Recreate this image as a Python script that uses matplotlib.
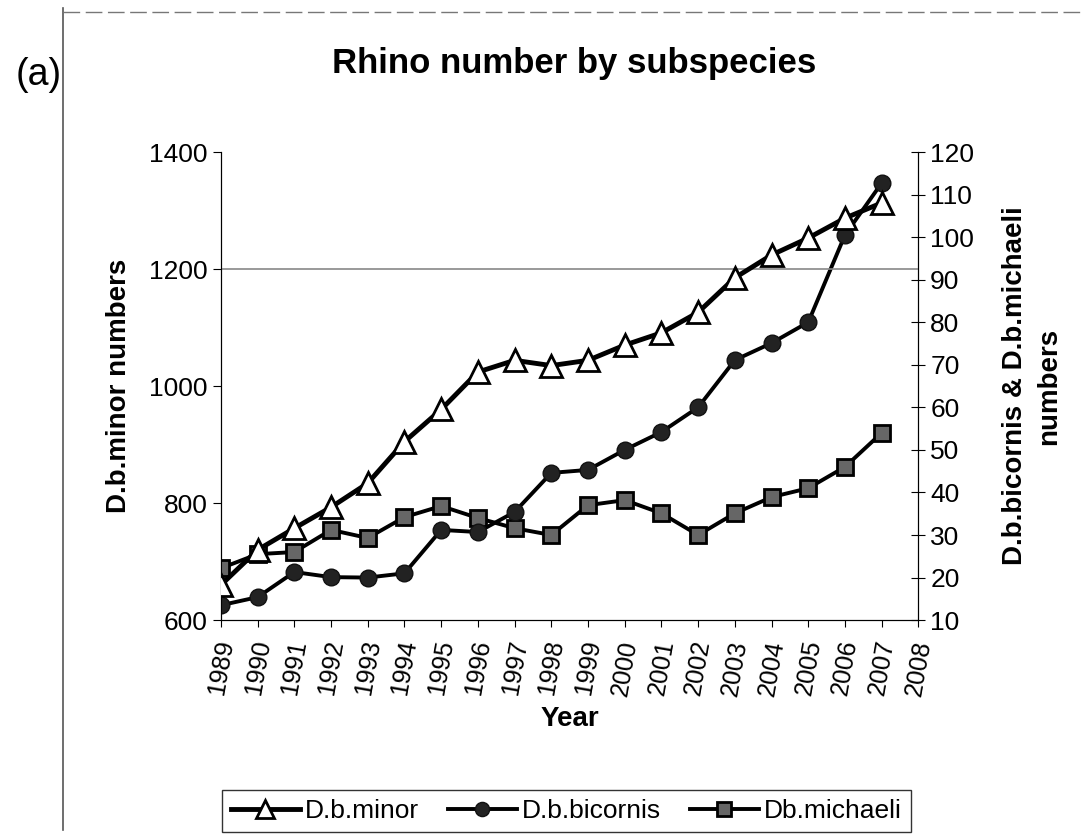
import matplotlib
matplotlib.use("Agg")
import matplotlib.pyplot as plt
from matplotlib.lines import Line2D

# ---------------------------
# Data
# ---------------------------
years = list(range(1989, 2008))
year_ticks = list(range(1989, 2009))

minor = [660, 720, 757, 793, 834, 905, 960, 1024, 1044, 1035, 1044,
         1070, 1091, 1126, 1185, 1224, 1253, 1287, 1313]
bicornis = [13.5, 15.4, 21.3, 20.1, 20.0, 21.0, 31.2, 30.7, 35.4, 44.6, 45.3,
            50.0, 54.2, 60.0, 71.1, 75.1, 80.0, 100.5, 112.7]
michaeli = [22.2, 25.5, 26.0, 31.2, 29.3, 34.2, 36.8, 34.0, 31.6, 30.0, 37.0,
            38.2, 35.1, 30.0, 35.1, 38.9, 41.0, 46.0, 54.0]

plt.rcParams['font.family'] = ['Liberation Sans', 'DejaVu Sans']

fig = plt.figure(figsize=(10.83, 8.38), dpi=100)
ax = fig.add_axes([0.204, 0.26, 0.644, 0.5586])
ax2 = ax.twinx()

# left axis: D.b.minor
ax.axhline(1200, color='#888888', lw=1.2, zorder=0)
l1, = ax.plot(years, minor, color='black', lw=3.5, marker='^', ms=16,
              mfc='white', mec='black', mew=2, zorder=5)
ax.set_ylim(600, 1400)
ax.set_yticks(range(600, 1401, 200))
ax.set_xlim(1989, 2008)
ax.set_xticks(year_ticks)
ax.set_xticklabels([str(y) for y in year_ticks], rotation=80, fontsize=18)
ax.tick_params(axis='y', labelsize=19, direction='out', length=6)
ax.tick_params(axis='x', direction='out', length=5, pad=8)
ax.set_ylabel('D.b.minor numbers', fontsize=20, fontweight='bold', labelpad=12)
ax.set_xlabel('Year', fontsize=20, fontweight='bold', labelpad=6)
ax.spines['top'].set_visible(False)

# right axis: bicornis & michaeli
l2, = ax2.plot(years, bicornis, color='black', lw=2.8, marker='o', ms=12,
               mfc='#222222', mec='#111111', zorder=4)
l3, = ax2.plot(years, michaeli, color='black', lw=2.8, marker='s', ms=12,
               mfc='#666666', mec='black', mew=2, zorder=3)
ax2.set_ylim(10, 120)
ax2.set_yticks(range(10, 121, 10))
ax2.tick_params(axis='y', labelsize=19, direction='inout', length=10)
ax2.set_ylabel('D.b.bicornis & D.b.michaeli\nnumbers', fontsize=20,
               fontweight='bold', rotation=90, labelpad=20, linespacing=1.4)
ax2.spines['top'].set_visible(False)

ax.set_zorder(ax2.get_zorder() + 1)
ax.patch.set_visible(False)

fig.text(0.53, 0.924, 'Rhino number by subspecies', ha='center', va='center',
         fontsize=25, fontweight='bold')
fig.text(0.036, 0.91, '(a)', ha='center', va='center', fontsize=27)

leg = fig.legend([l1, l2, l3], ['D.b.minor', 'D.b.bicornis', 'Db.michaeli'],
                 loc='center', bbox_to_anchor=(0.523, 0.032), ncol=3,
                 fontsize=19, frameon=True, fancybox=False, edgecolor='black',
                 handlelength=2.6, columnspacing=1.1, handletextpad=0.2,
                 borderpad=0.35, markerscale=0.85)
leg.get_frame().set_linewidth(1.0)

# scan frame lines
fig.add_artist(Line2D([0.058, 0.058], [0.01, 0.99], color='#555555', lw=1.2))
fig.add_artist(Line2D([0.058, 1.0], [0.986, 0.986], color='#777777', lw=1.0,
                      ls=(0, (12, 4))))

fig.savefig('out.png', dpi=100)
